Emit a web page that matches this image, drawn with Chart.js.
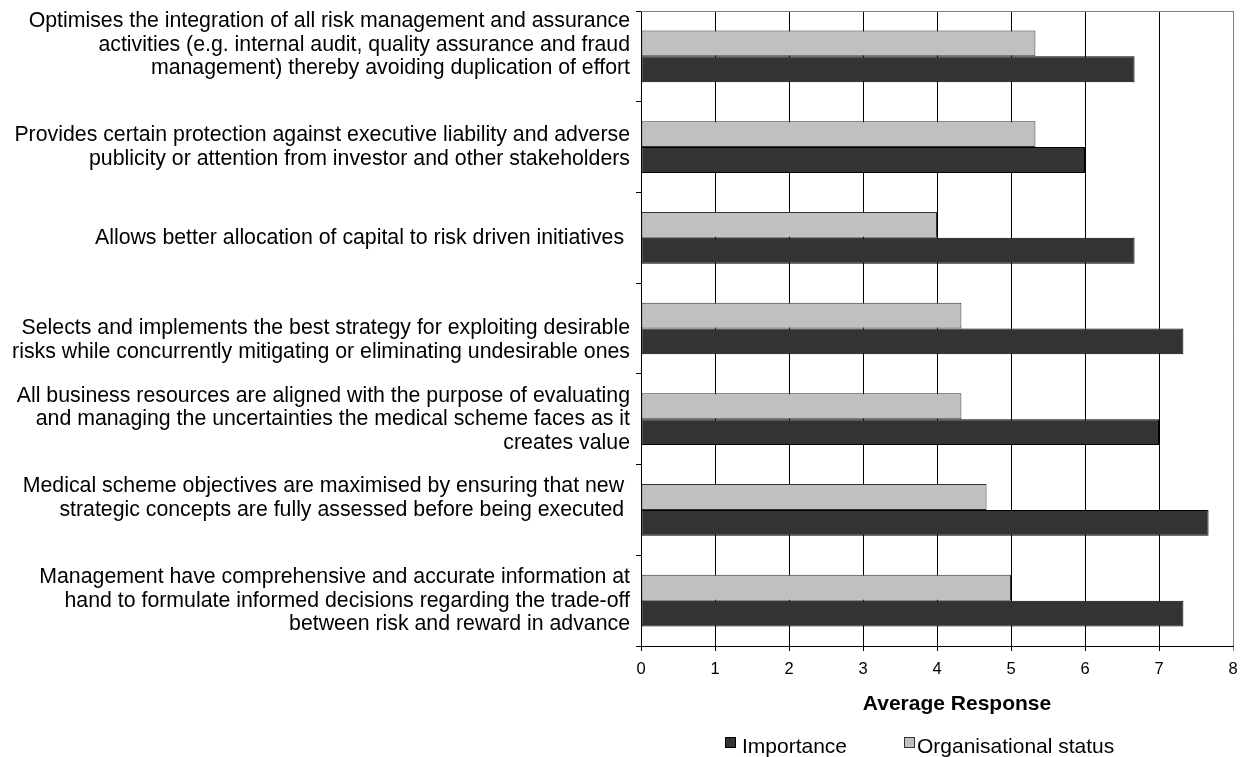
<!DOCTYPE html>
<html>
<head>
<meta charset="utf-8">
<script src="https://cdn.jsdelivr.net/npm/chart.js@4.4.1/dist/chart.umd.min.js"></script>
<style>
  html, body { margin: 0; padding: 0; background: #ffffff; }
  #wrap { width: 1247px; height: 757px; position: relative; }
</style>
</head>
<body>
<div id="wrap"><canvas id="chart" width="1247" height="757"></canvas></div>
<script>
// Survey statements (one entry per category, already split into lines)
const categories = [
  ["Optimises the integration of all risk management and assurance",
   "activities (e.g. internal audit, quality assurance and fraud",
   "management) thereby avoiding duplication of effort"],
  ["Provides certain protection against executive liability and adverse",
   "publicity or attention from investor and other stakeholders"],
  ["Allows better allocation of capital to risk driven initiatives "],
  ["Selects and implements the best strategy for exploiting desirable",
   "risks while concurrently mitigating or eliminating undesirable ones"],
  ["All business resources are aligned with the purpose of evaluating",
   "and managing the uncertainties the medical scheme faces as it",
   "creates value"],
  ["Medical scheme objectives are maximised by ensuring that new ",
   "strategic concepts are fully assessed before being executed "],
  ["Management have comprehensive and accurate information at",
   "hand to formulate informed decisions regarding the trade-off",
   "between risk and reward in advance"]
];

// Average responses per statement
const importance = [6.67, 6.0, 6.67, 7.33, 7.0, 7.67, 7.33];
const organisationalStatus = [5.33, 5.33, 4.0, 4.33, 4.33, 4.67, 5.0];

const seriesNames = ["Importance", "Organisational status"];
const xTicks = [0, 1, 2, 3, 4, 5, 6, 7, 8];
const axisTitle = "Average Response";

// Vertical nudge of each wrapped label: -1 pushes it up half a line, +1 down
const labelNudge = [-1, 0, 0, 1, 0, -1, 0];

const FONT = "'Liberation Sans', Arial, Helvetica, sans-serif";
const DARK = "#333333";
const LIGHT = "#c0c0c0";

function nudged(lines, n) {
  if (n < 0) return lines.concat([""]);
  if (n > 0) return [""].concat(lines);
  return lines;
}

// Frame, axis title and legend drawn around the plot area
const decorations = {
  id: "decorations",
  afterDraw(chart) {
    const ctx = chart.ctx;
    const a = chart.chartArea;
    ctx.save();
    // grey top frame line
    ctx.strokeStyle = "#808080";
    ctx.lineWidth = 1;
    ctx.beginPath();
    ctx.moveTo(a.left, Math.round(a.top) + 0.5);
    ctx.lineTo(a.right, Math.round(a.top) + 0.5);
    ctx.stroke();

    const cx = (a.left + a.right) / 2;
    // axis title
    ctx.fillStyle = "#000";
    ctx.font = "bold 21px " + FONT;
    ctx.textAlign = "center";
    ctx.textBaseline = "middle";
    ctx.fillText(axisTitle, cx + 20, a.bottom + 58);

    // legend: Importance first, then Organisational status
    const items = [
      { text: seriesNames[0], fill: DARK, stroke: "#000" },
      { text: seriesNames[1], fill: LIGHT, stroke: "#333" }
    ];
    ctx.font = "21px " + FONT;
    ctx.textAlign = "left";
    ctx.textBaseline = "alphabetic";
    let x = cx - 212;
    const boxTop = a.bottom + 91;
    items.forEach((it, i) => {
      ctx.fillStyle = it.fill;
      ctx.fillRect(x + 0.5, boxTop + 0.5, 10, 10);
      ctx.strokeStyle = it.stroke;
      ctx.strokeRect(x + 0.5, boxTop + 0.5, 10, 10);
      ctx.fillStyle = "#000";
      ctx.fillText(it.text, x + (i === 0 ? 17 : 13), a.bottom + 107);
      x += 179;
    });
    ctx.restore();
  }
};

new Chart(document.getElementById("chart"), {
  type: "bar",
  data: {
    labels: categories,
    datasets: [
      {
        label: seriesNames[1],
        data: organisationalStatus,
        backgroundColor: LIGHT,
        borderColor: "#333333",
        borderWidth: 1,
        borderSkipped: false,
        barPercentage: 1.0,
        categoryPercentage: 0.57
      },
      {
        label: seriesNames[0],
        data: importance,
        backgroundColor: DARK,
        borderColor: "#000000",
        borderWidth: 1,
        borderSkipped: false,
        barPercentage: 1.0,
        categoryPercentage: 0.57
      }
    ]
  },
  options: {
    indexAxis: "y",
    responsive: false,
    animation: false,
    devicePixelRatio: 1,
    layout: { padding: { top: 11, right: 14, left: 0, bottom: 0 } },
    plugins: {
      legend: { display: false },
      tooltip: { enabled: false }
    },
    scales: {
      x: {
        type: "linear",
        min: xTicks[0],
        max: xTicks[xTicks.length - 1],
        afterBuildTicks(scale) {
          scale.ticks = xTicks.map(v => ({ value: v }));
        },
        afterFit(scale) {
          scale.height = 111;
          scale.paddingLeft = 0;
          scale.paddingRight = 0;
        },
        ticks: {
          stepSize: 1,
          color: "#000",
          font: { family: FONT, size: 16.5 },
          padding: 9
        },
        grid: {
          color: ctx => (ctx.tick && ctx.tick.value === 8 ? "#808080" : "#000000"),
          lineWidth: 1,
          tickLength: 5,
          drawTicks: true
        },
        border: { display: true, color: "#000000", width: 1 },
        title: { display: false }
      },
      y: {
        afterFit(scale) {
          scale.width = 641;
          scale.paddingTop = 0;
          scale.paddingBottom = 0;
        },
        ticks: {
          color: "#000",
          font: { family: FONT, size: 21.3, lineHeight: 1.1 },
          padding: 6,
          autoSkip: false,
          callback(value, index) {
            return nudged(categories[index], labelNudge[index]);
          }
        },
        grid: {
          offset: true,
          drawOnChartArea: false,
          drawTicks: true,
          tickLength: 5,
          color: "#000000"
        },
        border: { display: true, color: "#000000", width: 1 }
      }
    }
  },
  plugins: [decorations]
});
</script>
</body>
</html>
